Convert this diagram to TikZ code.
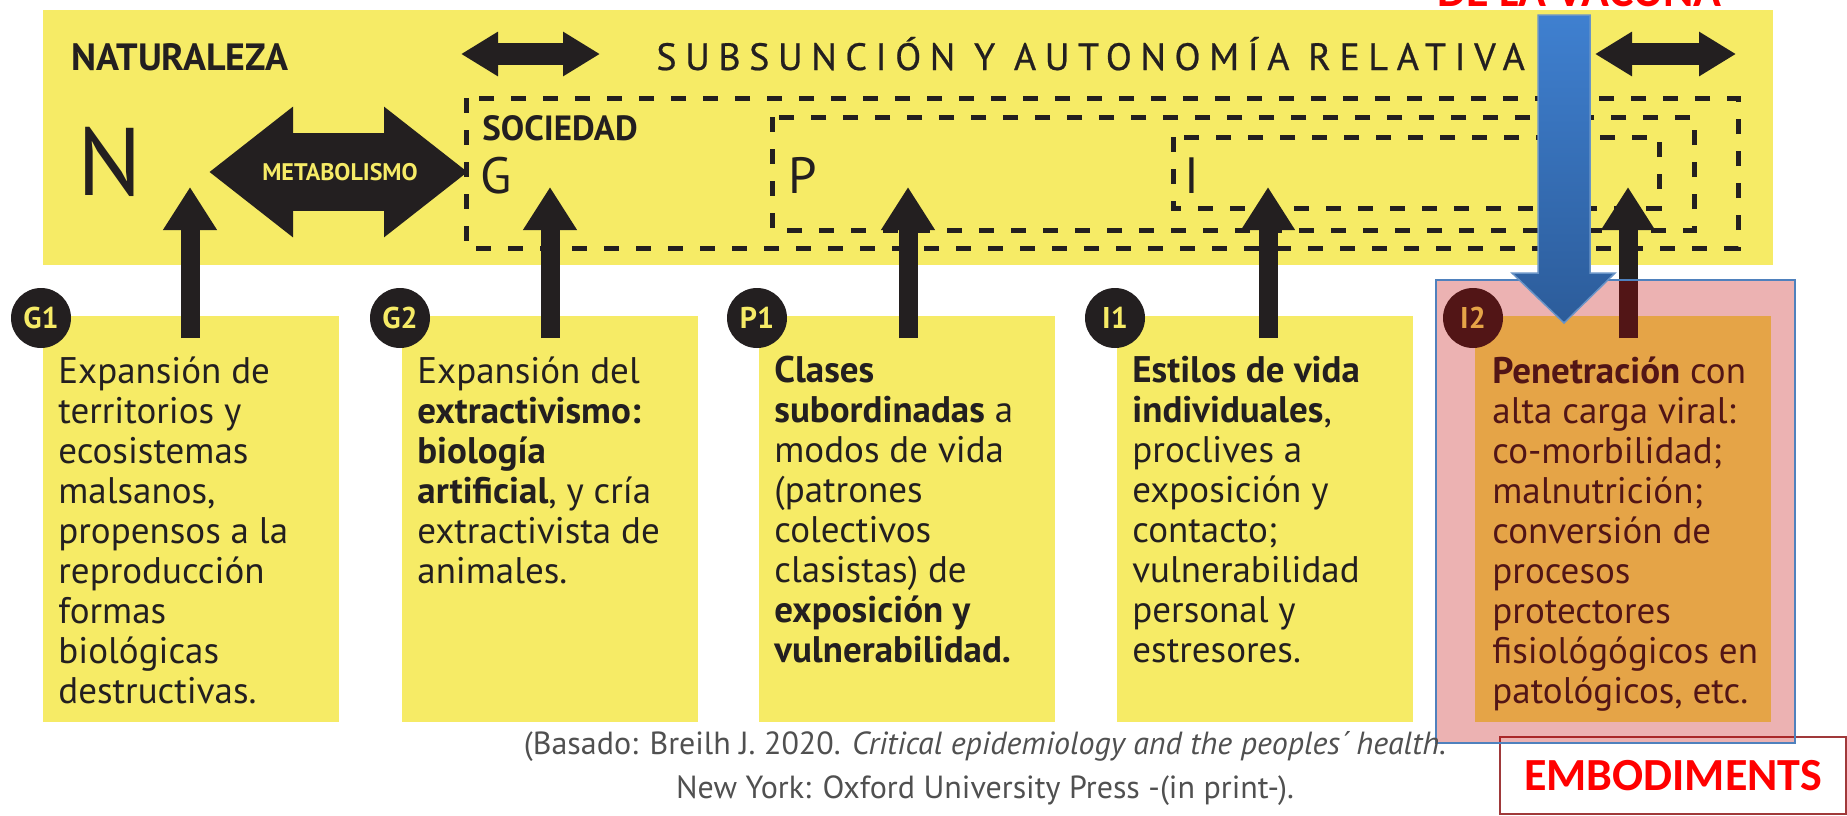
\documentclass[tikz,border=0pt]{standalone}
\usepackage{fontspec}
\setmainfont{PT Sans}
\newfontfamily\calib{Carlito}
\usetikzlibrary{arrows.meta,calc,positioning}
\definecolor{amarillo}{HTML}{F6EB66}
\definecolor{tinta}{HTML}{231F20}
\definecolor{azulA}{HTML}{3F80D0}
\definecolor{azulB}{HTML}{2C5C9A}
\definecolor{borde}{HTML}{4F81BD}
\definecolor{rojo}{HTML}{FF0000}
\definecolor{gris}{HTML}{505050}
\definecolor{vino}{HTML}{A0393A}
\begin{document}
\begin{tikzpicture}[x=.5pt,y=-.5pt,
		caja/.style={fill=amarillo,minimum width=148pt,minimum height=203pt,inner sep=0pt,anchor=north west},
		texto/.style={anchor=north west,inner sep=0pt,align=left,text=tinta,font=\fontsize{18.5pt}{20pt}\selectfont,execute at begin node={\rule{0pt}{15pt}}},
		bola/.style={circle,fill=tinta,minimum size=30pt,inner sep=0pt,text=amarillo,font=\bfseries\fontsize{15pt}{15pt}\selectfont},
		rotulo/.style={anchor=base west,inner sep=0pt,text=tinta},
		subir/.style={tinta,line width=9.5pt,-{Triangle[width=25.5pt,length=21.5pt]}},
		doble/.style={tinta,line width=11pt,{Triangle[width=21pt,length=18.5pt]}-{Triangle[width=21pt,length=18.5pt]}},
		rayas/.style={tinta,line width=2.5pt,dash pattern=on 7.5pt off 8.5pt},
		]
	\useasboundingbox (0,0) rectangle (1847,815);
	\clip (0,0) rectangle (1847,815);
	% <<< franja superior
	\node[fill=amarillo,minimum width=865pt,minimum height=127.5pt,inner sep=0pt,anchor=north west] (banda) at (43,10) {};
	\draw[rayas] (466,98) rectangle (1738,248);
	\draw[rayas] (772,117) rectangle (1694,230);
	\draw[rayas] (1173,137) rectangle (1659,208);
	\path
	(71,70) node[rotulo,font=\bfseries\fontsize{19pt}{19pt}\selectfont] (nat) {NATURALEZA}
	(656,70) node[rotulo,font=\fontsize{19pt}{19pt}\selectfont\addfontfeature{LetterSpace=22.5,FakeBold=0.6}] (sub) {SUBSUNCIÓN Y AUTONOMÍA RELATIVA}
	(77,195) node[rotulo,font=\fontsize{48pt}{48pt}\selectfont] (N) {N}
	(482,140) node[rotulo,font=\bfseries\fontsize{17.5pt}{17.5pt}\selectfont] (soc) {SOCIEDAD}
	(480,193) node[rotulo,font=\fontsize{25.5pt}{25.5pt}\selectfont] (G) {G}
	(788,193) node[rotulo,font=\fontsize{25.5pt}{25.5pt}\selectfont] (P) {P}
	(1184,193) node[rotulo,font=\fontsize{25.5pt}{25.5pt}\selectfont] (I) {I};
	\coordinate (dA1) at (461,54);
	\coordinate (dA2) at (600,54);
	\coordinate (dB1) at (1595,54);
	\coordinate (dB2) at (1736,54);
	\draw[doble] (dA1) -- (dA2);
	\draw[doble] (dB1) -- (dB2);
	\coordinate (mI) at (209,172);
	\coordinate (mD) at (468,172);
	\draw[tinta,line width=39pt,{Triangle[width=62.5pt,length=42pt]}-{Triangle[width=62.5pt,length=42pt]}] (mI) -- (mD);
	\node[text=amarillo,font=\bfseries\fontsize{12pt}{12pt}\selectfont] (meta) at (340,172) {METABOLISMO};
	% <<< cajas
	\foreach \n/\x in {G1/43,G2/402,P1/759,I1/1117,I2/1475}
		\node[caja] (\n) at (\x,316) {};
	\foreach \n/\x in {G1/190,G2/550,P1/908,I1/1268,I2/1628}{
		\coordinate (p\n) at (\x,187);
		\draw[subir,shorten <=-11pt] (p\n |- \n.north) -- (p\n);
	}
	\node[texto] (tG1) at ($(G1.north west)+(15,40)$) {Expansión de\\territorios y\\ecosistemas\\malsanos,\\propensos a la\\reproducción\\formas\\biológicas\\destructivas.};
	\node[texto] (tG2) at ($(G2.north west)+(15,40)$) {Expansión del\\\textbf{extractivismo:}\\\textbf{biología}\\\textbf{artificial}, y cría\\extractivista de\\animales.};
	\node[texto] (tP1) at ($(P1.north west)+(15,40)$) {\textbf{Clases}\\\textbf{subordinadas} a\\modos de vida\\(patrones\\colectivos\\clasistas) de\\\textbf{exposición y}\\\textbf{vulnerabilidad.}};
	\node[texto] (tI1) at ($(I1.north west)+(15,40)$) {\textbf{Estilos de vida}\\\textbf{individuales},\\proclives a\\exposición y\\contacto;\\vulnerabilidad\\personal y\\estresores.};
	\node[texto] (tI2) at ($(I2.north west)+(17,40)$) {\textbf{Penetración} con\\alta carga viral:\\co-morbilidad;\\malnutrición;\\conversión de\\procesos\\protectores\\fisiológógicos en\\patológicos, etc.};
	\foreach \n in {G1,G2,P1,I1,I2}
		\node[bola] (c\n) at ($(\n.north west)+(-2,2)$) {\n};
	% <<< recuadro final
	\node[draw=vino,line width=1pt,fill=white,minimum width=173pt,minimum height=38.5pt,inner sep=0pt,anchor=north west] (emb) at (1499,736) {};
	\fill[red!75!black,opacity=.3] (1436,280) rectangle (1795,743);
	\draw[borde,line width=1pt] (1436,280) rectangle (1795,743);
	\node[text=rojo,font=\calib\bfseries\fontsize{23pt}{23pt}\selectfont] (embt) at (emb.center) {EMBODIMENTS};
	\shadedraw[top color=azulA,bottom color=azulB,draw=borde!85!white,line width=.75pt] (1538,15) -- (1590,15) -- (1590,273) -- (1615,273) -- (1564,323) -- (1512,273) -- (1538,273) -- cycle;
	\node[rotulo,text=rojo,font=\calib\bfseries\fontsize{23pt}{23pt}\selectfont] (vac) at (1437,6) {DE LA VACUNA};
	\node[text=gris,align=center,inner sep=0pt,anchor=base,font=\fontsize{16pt}{22pt}\selectfont] (ref) at (985,798) {(Basado: Breilh J. 2020. \textit{Critical epidemiology and the peoples´ health.}\\New York: Oxford University Press -(in print-).};
\end{tikzpicture}
\end{document}
